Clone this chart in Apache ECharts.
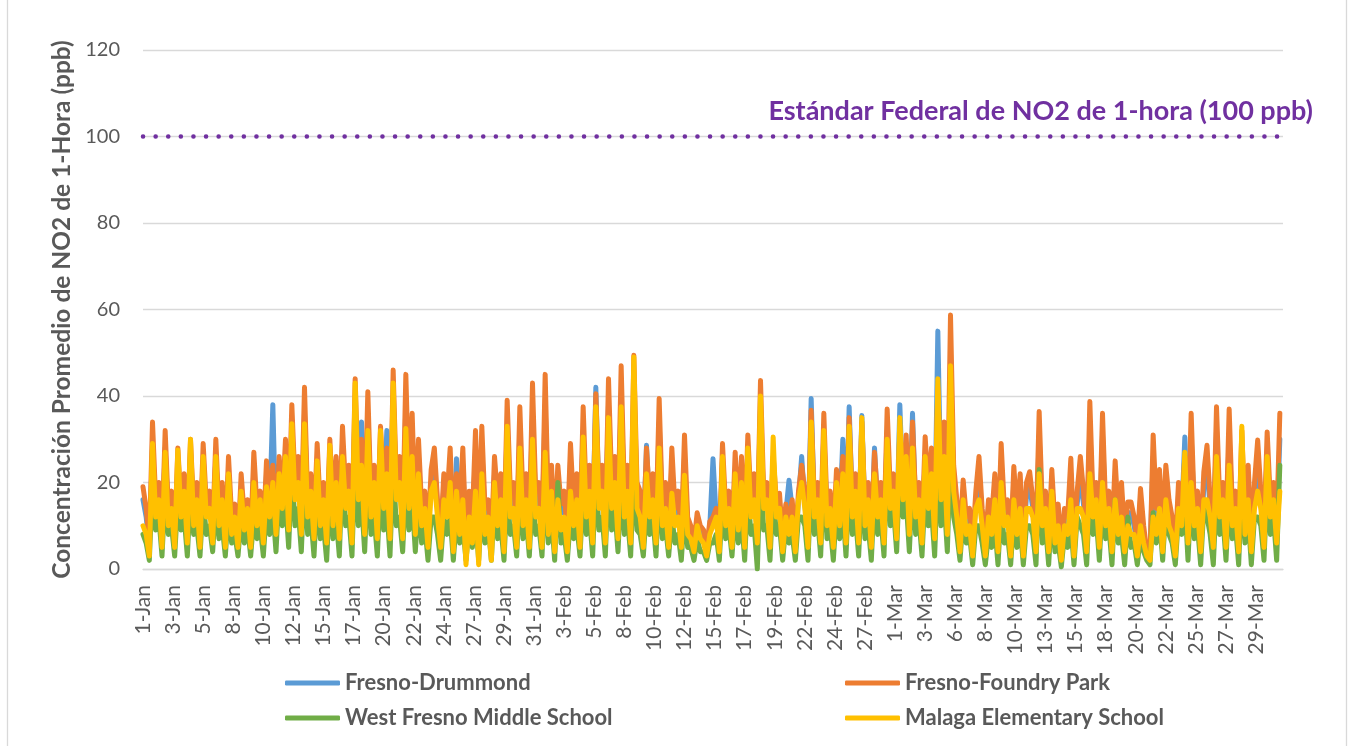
<!DOCTYPE html>
<html>
<head>
<meta charset="utf-8">
<script src="https://cdn.jsdelivr.net/npm/echarts@6/dist/echarts.min.js"></script>
<style>
  html, body { margin: 0; padding: 0; background: #fff; }
  #chart { width: 1354px; height: 746px; }
</style>
</head>
<body>
<div id="chart"></div>
<script>
// x tick labels, one every 57 hours (hourly data, 1-Jan .. 31-Mar)
var tickLabels = ['1-Jan','3-Jan','5-Jan','8-Jan','10-Jan','12-Jan','15-Jan','17-Jan','20-Jan','22-Jan','24-Jan','27-Jan','29-Jan','31-Jan',
                  '3-Feb','5-Feb','8-Feb','10-Feb','12-Feb','15-Feb','17-Feb','19-Feb','22-Feb','24-Feb','27-Feb',
                  '1-Mar','3-Mar','6-Mar','8-Mar','10-Mar','13-Mar','15-Mar','18-Mar','20-Mar','22-Mar','25-Mar','27-Mar','29-Mar'];
var labelStep  = 57;   // hours between labels
var sampleStep = 6;    // hours between the values below (4 per day)
var totalHours = 2160;

var seriesNames = ['Fresno-Drummond', 'Fresno-Foundry Park', 'West Fresno Middle School', 'Malaga Elementary School'];
var stdLabel    = 'Estándar Federal de NO2 de 1-hora (100 ppb)';
var stdValue    = 100;

// ppb, 4 values per day (00h, 06h, 12h, 18h)
var drummond = [
  16,12,5,28, 14,18,7,28, 12,16,6,24, 13,20,8,27, 12,18,7,25,
  13,16,8,26, 11,17,6,22, 10,13,5,19, 10,14,6,23, 12,16,7,22,
  14,38,9,24, 13,26,10,33, 17,23,10,36, 14,19,9,25, 12,17,8,26,
  13,22,9,29, 16,21,9,38, 17,34,10,35, 14,21,9,29, 15,32,9,40,
  17,22,9,38, 15,30,10,26, 12,16,7,20, 24,14,7,19, 14,24,7,25.5,
  12,24,6,16, 10,27,7,28, 12,14,5,22, 14,19,7,33, 15,17,8,32,
  14,19,9,36, 15,17,8,38, 12,20,7,20, 13,15,7,25, 12,19,8,32,
  14,20,9,42, 15,20,9,38, 17,22,10,40, 15,20,9,42, 17,15,7,28.6,
  14,19,9,34, 13,17,7,24, 12,15,7,26, 10,9,5,11, 9,8,4,10,
  25.5,12,5,25, 12,15,6,23, 10,22,7,26, 14,19,9,37, 15,17,7,22,
  14,15,6,13, 20.5,14,5,16, 26,15,7,39.4, 14,17,8,31, 12,15,7,20,
  12,30,9,37.5, 14,19,8,35.5, 12,17,7,28, 14,17,8,32, 15,19,9,38,
  17,27,10,36, 14,17,8,26, 15,24,9,55, 17,29,10,44, 20,14,7,18,
  10,12,5,15, 22,12,5,14, 10,19,6,25, 12,14,5,20, 10,19,6,17,
  19,14,7,31, 12,15,6,20, 9,13,5,12, 10,22,5,15, 22,15,7,33,
  14,17,8,31, 12,15,6,21, 10,17,6,13, 13,10,5,16, 8,4,3,26,
  12,20,7,20, 14,10,5,17, 12,30.5,9,31, 12,15,6,19, 24,14,7,32,
  14,17,8,31, 12,15,7,27, 10,20,6,17, 25,15,8,27, 14,17,9,30
];
var foundryPark = [
  19,14,6,34, 16,20,8,32, 14,18,7,28, 15,22,9,30, 14,20,8,29,
  15,18,9,30, 13,20,7,26, 12,15,6,22, 12,16,7,27, 14,18,8,25,
  16,24,10,26, 15,30,12,38, 20,26,12,42, 16,22,10,29, 14,20,9,30,
  15,26,10,33, 18,24,10,44, 20,30,12,41, 16,24,10,33, 18,28,10,46,
  20,26,10,45, 18,36,12,30, 14,18,8,23, 28,16,8,22, 16,28,8,22,
  14,28,7,18, 12,32,8,33, 14,16,6,26, 16,22,8,39, 18,20,9,37.5,
  16,22,10,43, 18,20,9,45, 14,24,8,24, 15,18,8,29, 14,22,9,37.5,
  16,24,10,40.5, 18,24,10,44, 20,26,12,47, 18,24,10,49.4, 20,18,8,28,
  16,22,10,39.4, 15,20,8,28, 14,18,8,31, 12,10,6,13, 10,9,5,11,
  12,14,6,29, 14,18,7,27, 12,26,8,31, 16,22,10,43.6, 18,20,8,26,
  16,17.5,7,15, 10,16,6,18, 24,18,8,36.7, 16,20,9,36, 14,18,8,23,
  14,26,10,35, 16,22,9,34, 14,20,8,27, 16,20,9,37, 18,22,10,32,
  20,31,12,34, 16,20,9,30.6, 18,28,10,42, 20,34,12,58.7, 24,16,8,20.6,
  12,14,6,18, 26,14,6,16, 12,22,7,29, 14,16,6,23.7, 12,22,7,20,
  22.5,16,8,36.4, 14,18,7,23, 10,15,5,14, 12,25.6,6,18, 26,18,8,38.7,
  16,20,9,36, 14,18,7,25, 12,20,8,15.5, 15.5,12,6,18.6, 10,4,3,31,
  14,23,8,24, 16,12,5,20, 14,26,10,36, 14,18,7,22.5, 28.6,16,8,37.5,
  16,20,9,37, 14,18,8,32, 12,24,7,20, 29.8,18,9,31.7, 16,20,10,36
];
var westFresno = [
  8,6,2,20, 9,12,3,18, 8,10,3,16, 9,12,3,18, 8,10,3,16,
  8,10,4,16, 7,10,3,14, 6,8,3,12, 6,10,3,12, 7,10,3,14,
  8,14,4,18, 10,16,5,24, 10,14,4,22, 8,12,3,18, 7,10,2,18,
  7,12,3,24, 10,12,3,26, 10,16,4,22, 8,12,3,20, 9,14,3,24,
  10,12,4,20, 9,16,4,16, 6,10,2,12, 12,8,2,12, 8,12,2,12,
  6,10,2,10, 5,12,2,14, 6,10,2,16, 7,10,2,18, 8,10,3,18,
  7,12,3,18, 8,10,3,20, 6,12,2,20, 6,8,2,12, 7,10,3,18,
  8,12,3,22, 9,12,3,22, 9,14,4,20, 8,12,3,24, 9,8,3,14,
  8,12,3,20, 7,10,3,12, 6,8,2,14, 5,5,2,7, 4,4,2,6,
  6,8,2,16, 7,10,3,14, 6,12,2,18, 8,10,0,24, 9,10,2,18,
  8,10,2,10, 6,8,2,12, 12,10,2,20, 8,12,3,22, 7,10,2,14,
  7,14,3,20, 8,12,3,20, 7,10,2,18, 8,12,3,26.7, 10,14,4,24,
  12,16,4,20, 8,12,3,18, 10,14,3,24, 10,16,4,28, 12,8,2,12,
  6,8,1,10, 10,6,1,8, 5,10,1,14, 6,8,1,12, 5,10,1,10,
  10,8,1,23, 6,10,1,14, 4,6,0.5,8, 5,10,1,12, 10,8,1,18,
  8,12,2,16, 7,10,1,16, 6,8,1,12, 5,6,1,8, 4,2,1,13,
  6,12,2,14, 8,6,1,12, 8,16,2,18, 7,10,1,14, 12,8,1,18,
  8,12,2,18, 7,10,1,20, 6,12,1,12, 12,10,2,20, 8,12,2,24
];
var malaga = [
  10,8,3,29, 12,16,5,27, 10,14,5,27.5, 12,18,6,30, 10,16,5,26,
  12,14,6,26, 10,16,5,22, 8,12,5,18, 9,14,5,20, 10,16,6,19,
  12,20,8,22, 14,26,9,33.6, 16,20,8,33.6, 12,18,7,25, 10,16,6,28.6,
  10,20,7,26, 14,18,6,43, 16,24,8,32, 12,20,7,32, 14,22,7,43,
  16,20,7,32.5, 14,26,8,22, 10,14,5,18, 20,12,5,16, 12,20,4,18,
  8,16,1,12, 6,18,1,22, 8,12,2,20, 10,16,4,33, 12,14,5,28,
  10,16,5,30, 12,14,5,27, 8,18,4,16, 9,12,4,18, 10,16,5,30.5,
  12,18,6,37.5, 14,18,6,35, 14,20,7,37.5, 12,18,6,49, 14,12,5,22,
  12,16,6,28, 10,14,5,17.5, 10,12,5,21.7, 8,7,4,10, 7,6,3,8,
  10,12,4,26, 10,14,5,22, 9,20,5,28, 12,16,6,40, 14,16,5,30.5,
  12,14,4,12, 8,12,4,16, 20,14,5,34, 12,16,6,32, 10,14,5,20,
  10,22,6,33, 12,18,6,35, 10,16,5,22, 12,16,6,30, 14,18,7,35,
  16,26,8,28, 12,16,6,26, 14,22,7,44, 16,26,8,47, 18,12,4,16,
  8,10,3,14, 16,10,3,12, 8,16,4,20, 10,12,3,16, 8,14,3,14,
  14,12,4,22, 10,14,4,18, 6,10,2,10, 8,16,3,14, 14,12,4,22,
  12,16,5,20, 10,14,4,16, 8,12,4,10, 8,8,3,10, 6,3,2,12,
  8,14,4,16, 10,8,3,14, 10,27,6,20, 10,14,4,16, 16,12,5,26,
  12,16,5,24, 10,14,4,33, 8,16,4,14, 18,14,5,26, 12,16,6,18
];

var colors = ['#5B9BD5', '#ED7D31', '#70AD47', '#FFC000'];
var values = [drummond, foundryPark, westFresno, malaga];

var textGray = '#595959';
var fontName = 'Lato';

var series = [];
for (var s = 0; s < values.length; s++)
{
    var pts = [];
    for (var k = 0; k < values[s].length; k++)
    {
        pts.push([k * sampleStep, values[s][k]]);
    }
    var item = {
        name: seriesNames[s],
        type: 'line',
        data: pts,
        symbol: 'none',
        color: colors[s],
        lineStyle: { width: 5, color: colors[s], join: 'round', cap: 'round' },
        emphasis: { disabled: true }
    };
    if (s === 0)
    {
        item.markLine = {
            silent: true,
            symbol: 'none',
            label: { show: false },
            lineStyle: { color: '#7030A0', width: 4.5, type: [0.1, 12.5], cap: 'round' },
            data: [{ yAxis: stdValue }]
        };
    }
    series.push(item);
}

// one legend per entry so each sits where the original puts it
var legendPos = [[285, 672], [845, 672], [285, 707], [845, 707]];
var legends = [];
for (var j = 0; j < seriesNames.length; j++)
{
    legends.push({
        data: [seriesNames[j]],
        left: legendPos[j][0],
        top: legendPos[j][1],
        padding: 0,
        icon: 'roundRect',
        itemWidth: 55,
        itemHeight: 5,
        itemGap: 0,
        selectedMode: false,
        textStyle: { color: textGray, fontSize: 22, fontWeight: 'bold', fontFamily: fontName }
    });
}

var chart = echarts.init(document.getElementById('chart'));
var option = {
    animation: false,
    backgroundColor: '#fff',
    grid: { left: 143, right: 71, top: 50, bottom: 177 },
    legend: legends,
    xAxis: {
        type: 'value',
        min: 0,
        max: totalHours,
        interval: labelStep,
        axisLine: { show: true, lineStyle: { color: '#D9D9D9', width: 1.3 } },
        axisTick: { show: false },
        splitLine: { show: false },
        axisLabel: {
            rotate: 90,
            margin: 16,
            color: textGray,
            fontSize: 21,
            fontFamily: fontName,
            showMaxLabel: false,
            formatter: function(val)
            {
                if (val % labelStep !== 0) return '';
                return tickLabels[val / labelStep] || '';
            }
        }
    },
    yAxis: {
        type: 'value',
        min: 0,
        max: 120,
        interval: 20,
        name: 'Concentración Promedio de NO2 de 1-Hora (ppb)',
        nameLocation: 'middle',
        nameGap: 68,
        nameTextStyle: { color: textGray, fontSize: 24.5, fontWeight: 'bold', fontFamily: fontName },
        axisLine: { show: false },
        axisTick: { show: false },
        axisLabel: { color: textGray, fontSize: 20, margin: 23, fontFamily: fontName },
        splitLine: { lineStyle: { color: '#D9D9D9', width: 1.3 } }
    },
    graphic: [
        { type: 'text', right: 1354 - 1313, top: 98,
          style: { text: stdLabel, fill: '#7030A0', font: 'bold 27px ' + fontName } },
        { type: 'line', shape: { x1: 7.5, y1: 0, x2: 7.5, y2: 746 }, style: { stroke: '#D9D9D9', lineWidth: 1.3 } },
        { type: 'line', shape: { x1: 1346.5, y1: 0, x2: 1346.5, y2: 746 }, style: { stroke: '#D9D9D9', lineWidth: 1.3 } }
    ],
    series: series
};

option && chart.setOption(option);
</script>
</body>
</html>
